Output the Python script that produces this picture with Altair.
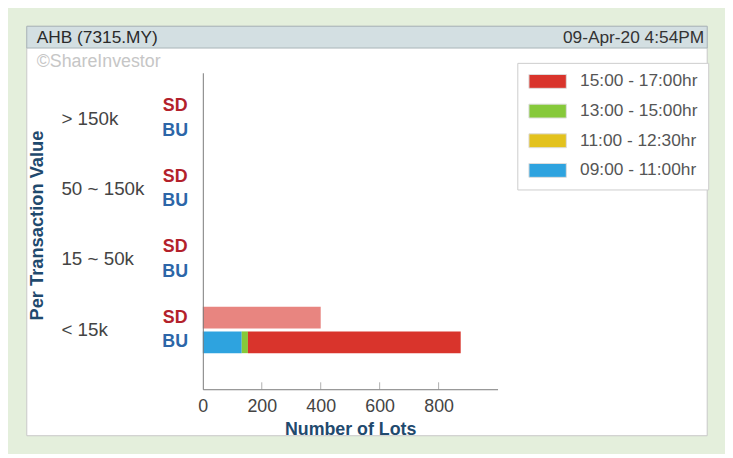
import altair as alt
import pandas as pd

groups = ["> 150k", "50 ~ 150k", "15 ~ 50k", "< 15k"]
sides = ["SD", "BU"]
periods = ["09:00 - 11:00hr", "11:00 - 12:30hr", "13:00 - 15:00hr", "15:00 - 17:00hr"]
period_colors = ["#2ea3df", "#e3c21d", "#86c93a", "#d9342c"]

# lots per group / side / period (order of periods as above)
sd_gt150k = [0, 0, 0, 0]
bu_gt150k = [0, 0, 0, 0]
sd_50_150k = [0, 0, 0, 0]
bu_50_150k = [0, 0, 0, 0]
sd_15_50k = [0, 0, 0, 0]
bu_15_50k = [0, 0, 0, 0]
sd_lt15k = [0, 0, 0, 400]
bu_lt15k = [132, 0, 21, 722]

x_ticks = [0, 200, 400, 600, 800]

series = {
    ("> 150k", "SD"): sd_gt150k, ("> 150k", "BU"): bu_gt150k,
    ("50 ~ 150k", "SD"): sd_50_150k, ("50 ~ 150k", "BU"): bu_50_150k,
    ("15 ~ 50k", "SD"): sd_15_50k, ("15 ~ 50k", "BU"): bu_15_50k,
    ("< 15k", "SD"): sd_lt15k, ("< 15k", "BU"): bu_lt15k,
}
rows = []
for (g, s), vals in series.items():
    for i, p in enumerate(periods):
        rows.append({"group": g, "side": s, "period": p, "pidx": i, "lots": vals[i]})
df = pd.DataFrame(rows)
labels_df = pd.DataFrame([{"group": g, "side": s} for g in groups for s in sides])
groups_df = pd.DataFrame({"group": groups})
ticks_df = pd.DataFrame({"v": x_ticks[1:]})

FONT = "Liberation Sans"
TITLE_COLOR = "#1f4a6e"

y_enc = alt.Y("group:N", sort=groups,
              scale=alt.Scale(domain=groups, paddingInner=0.298, paddingOuter=0.396, align=0.38),
              axis=alt.Axis(labels=False, ticks=False, domainColor="#7a7a7a", domainWidth=1, zindex=1,
                            title="Per Transaction Value", titleFont=FONT, titleFontSize=18.5,
                            titleFontWeight="bold", titleColor=TITLE_COLOR, titleAngle=270,
                            titleX=-168, titleY=154, titleAlign="center", titleBaseline="middle"))
yoff_enc = alt.YOffset("side:N", sort=sides,
                       scale=alt.Scale(domain=sides, paddingInner=0.12, paddingOuter=0.06))

x_scale = alt.Scale(domain=[0, 1000], nice=False)

one = alt.Data(values=[{}])

box = alt.Chart(one).mark_rect(fill="white", stroke="#c8c8c8", strokeWidth=1).encode(
    x=alt.value(-178), x2=alt.value(510), y=alt.value(-47), y2=alt.value(367))
header = alt.Chart(one).mark_rect(fill="#d3dfe2", stroke="#a9b5b8", strokeWidth=1).encode(
    x=alt.value(-178), x2=alt.value(510), y=alt.value(-47), y2=alt.value(-25))
h_left = alt.Chart(one).mark_text(text="AHB (7315.MY)", font=FONT, fontSize=17.5, color="#2a2a2a",
                                  align="left", baseline="middle").encode(
    x=alt.value(-168), y=alt.value(-35))
h_right = alt.Chart(one).mark_text(text="09-Apr-20 4:54PM", font=FONT, fontSize=17.5, color="#333333",
                                   align="right", baseline="middle").encode(
    x=alt.value(507), y=alt.value(-35))
wm = alt.Chart(one).mark_text(text="©ShareInvestor", font=FONT, fontSize=18, color="#c6c6c6",
                              align="left", baseline="middle").encode(
    x=alt.value(-168), y=alt.value(-11))

bars = alt.Chart(df).mark_bar().encode(
    y=y_enc,
    yOffset=yoff_enc,
    x=alt.X("sum(lots):Q", scale=x_scale, stack="zero",
            axis=alt.Axis(values=x_ticks, ticks=False, grid=False, domainColor="#7a7a7a", zindex=1,
                          labelFlush=False,
                          labelFont=FONT, labelFontSize=18, labelColor="#444444", labelPadding=9,
                          title="Number of Lots", titleFont=FONT, titleFontSize=18,
                          titleFontWeight="bold", titleColor=TITLE_COLOR, titlePadding=5)),
    color=alt.Color("period:N",
                    scale=alt.Scale(domain=periods[::-1], range=period_colors[::-1]),
                    legend=alt.Legend(title=None, orient="none", legendX=318, legendY=-10,
                                      fillColor="white", strokeColor="#cccccc", padding=10,
                                      symbolType="M-1,-1L4.4,-1L4.4,1L-1,1Z",
                                      symbolSize=196, symbolStrokeColor="#dddddd",
                                      symbolStrokeWidth=1, symbolOpacity=1,
                                      labelFont=FONT, labelFontSize=17.5, labelColor="#555555",
                                      labelOffset=36, rowPadding=11)),
    order=alt.Order("pidx:Q", sort="ascending"),
    opacity=alt.condition(alt.datum.side == "SD", alt.value(0.6), alt.value(1.0)),
)

tick_marks = alt.Chart(ticks_df).mark_rule(color="#b0b0b0").encode(
    x=alt.X("v:Q", scale=x_scale), y=alt.value(313), y2=alt.value(320))

side_labels = alt.Chart(labels_df).mark_text(font=FONT, fontSize=18, fontWeight="bold",
                                             align="center", baseline="middle").encode(
    y=alt.Y("group:N", sort=groups),
    yOffset=alt.YOffset("side:N", sort=sides),
    x=alt.value(-28),
    text="side:N",
    color=alt.Color("side:N", scale=alt.Scale(domain=["SD", "BU"], range=["#b3212b", "#2c66a8"]),
                    legend=None),
)

group_labels = alt.Chart(groups_df).mark_text(font=FONT, fontSize=19, color="#444444",
                                              align="left", baseline="middle").encode(
    y=alt.Y("group:N", sort=groups),
    x=alt.value(-143),
    text="group:N",
)

chart = alt.layer(box, header, h_left, h_right, wm, bars, tick_marks, side_labels, group_labels).resolve_scale(
    color="independent"
).properties(
    width=298, height=320,
    autosize=alt.AutoSizeParams(type="none"),
    padding={"left": 197, "top": 63, "right": 230, "bottom": 63},
    background="#e4efdc",
).configure_view(stroke=None)

chart.save("out.html", embed_options={"renderer": "svg", "actions": False})
